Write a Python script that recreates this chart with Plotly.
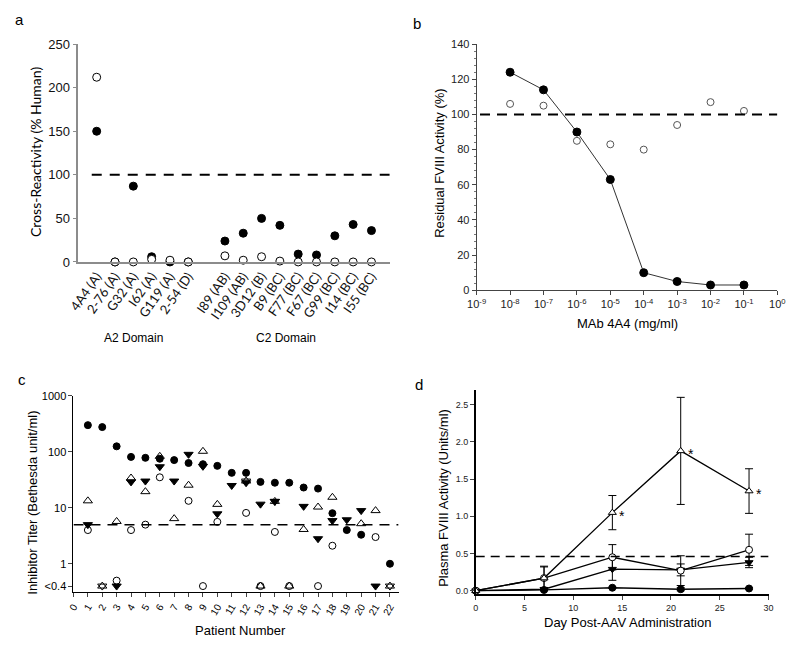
import plotly.graph_objects as go

# ---------------- Panel a data ----------------
a_labels = ["4A4 (A)", "2-76 (A)", "G32 (A)", "I62 (A)", "G119 (A)", "2-54 (D)",
            "I89 (AB)", "I109 (AB)", "3D12 (B)", "B9 (BC)", "F77 (BC)", "F67 (BC)",
            "G99 (BC)", "I14 (BC)", "I55 (BC)"]
a_pos = [0, 1, 2, 3, 4, 5, 7, 8, 9, 10, 11, 12, 13, 14, 15]
a_filled = [150, 0, 87, 6, 0, 0, 24, 33, 50, 42, 9, 8, 30, 43, 36]
a_open = [212, 0, 0, 3, 2, 0, 7, 2, 6, 1, 0, 0, 0, 0, 0]

# ---------------- Panel b data ----------------
b_conc = [1e-8, 1e-7, 1e-6, 1e-5, 1e-4, 1e-3, 1e-2, 1e-1]
b_filled = [124, 114, 90, 63, 10, 5, 3, 3]
b_open = [106, 105, 85, 83, 80, 94, 107, 102]
b_tickvals = [1e-9, 1e-8, 1e-7, 1e-6, 1e-5, 1e-4, 1e-3, 1e-2, 1e-1, 1]
b_ticktext = ["10<sup>-9</sup>", "10<sup>-8</sup>", "10<sup>-7</sup>", "10<sup>-6</sup>",
              "10<sup>-5</sup>", "10<sup>-4</sup>", "10<sup>-3</sup>", "10<sup>-2</sup>",
              "10<sup>-1</sup>", "10<sup>0</sup>"]

# ---------------- Panel c data (0.4 means "<0.4") ----------------
c_patients = list(range(1, 23))
c_filled_circle = [299, 276, 125, 81, 78, 75, 71, 63, 60, 56, 42, 42, 29, 28, 28, 23, 22, 8, 4, 3.3, None, 1.0]
c_filled_down = [5.0, None, 0.4, 29, 30, 54, 30, 90, 55, 7.8, 25, 28, 11.6, 13, None, 10.6, 2.8, 5.9, 6.1, 8.9, 0.4, None]
c_open_up = [13.3, 0.4, 5.7, 34, 19.4, 83, 6.4, 25.3, 102, 11.5, None, 30, 0.4, 13, 0.4, 4.1, 10.3, 15.4, None, 5.2, 8.9, 0.4]
c_open_down = [None, 0.4, None, None, None, None, None, None, None, None, None, 30, None, 13, None, None, None, None, None, None, None, 0.4]
c_open_circle = [4.0, None, 0.5, 4.0, 5.0, 35, None, 13.3, 0.4, 5.6, None, 8.1, 0.4, 3.7, 0.4, None, 0.4, 2.1, None, None, 3.0, None]
c_tickvals = [0.4, 1, 10, 100, 1000]
c_ticktext = ["<0.4", "1", "10", "100", "1000"]

# ---------------- Panel d data ----------------
d_days = [0, 7, 14, 21, 28]
d_open_up = [0, 0.17, 1.05, 1.88, 1.34]
d_open_up_err = [0, 0.15, 0.23, 0.72, 0.30]
d_open_circle = [0, 0.17, 0.45, 0.27, 0.55]
d_open_circle_err = [0, 0.16, 0.17, 0.20, 0.21]
d_filled_down = [0, 0.02, 0.29, 0.28, 0.38]
d_filled_down_err = [0, 0.02, 0.15, 0.08, 0.07]
d_filled_circle = [0, 0.01, 0.04, 0.02, 0.03]
d_filled_circle_err = [0, 0.01, 0.01, 0.02, 0.01]

W, H = 800, 647
def px(x):
    return x / W
def py(y):
    return 1 - y / H

ARIAL = "Liberation Sans, Arial, sans-serif"
fig = go.Figure()

filled = dict(color="black", line=dict(color="black", width=1))
hollow = dict(color="white", line=dict(color="black", width=1))
clear = dict(color="rgba(0,0,0,0)", line=dict(color="black", width=1))

# ---- Panel a ----
fig.add_trace(go.Scatter(x=a_pos, y=a_filled, mode="markers", xaxis="x", yaxis="y",
                         marker=dict(symbol="circle", size=8, **filled), cliponaxis=False))
fig.add_trace(go.Scatter(x=a_pos, y=a_open, mode="markers", xaxis="x", yaxis="y",
                         marker=dict(symbol="circle", size=8, **hollow), cliponaxis=False))

# ---- Panel b ----
fig.add_trace(go.Scatter(x=b_conc, y=b_filled, mode="lines+markers", xaxis="x2", yaxis="y2",
                         line=dict(color="#333", width=1),
                         marker=dict(symbol="circle", size=8, **filled), cliponaxis=False))
fig.add_trace(go.Scatter(x=b_conc, y=b_open, mode="markers", xaxis="x2", yaxis="y2",
                         marker=dict(symbol="circle", size=7, color="white",
                                     line=dict(color="#555", width=1)), cliponaxis=False))

# ---- Panel c ----
fig.add_trace(go.Scatter(x=c_patients, y=c_filled_circle, mode="markers", xaxis="x3", yaxis="y3",
                         marker=dict(symbol="circle", size=7, **filled), cliponaxis=False))
fig.add_trace(go.Scatter(x=c_patients, y=c_filled_down, mode="markers", xaxis="x3", yaxis="y3",
                         marker=dict(symbol="triangle-down", size=8, **filled), cliponaxis=False))
fig.add_trace(go.Scatter(x=c_patients, y=c_open_up, mode="markers", xaxis="x3", yaxis="y3",
                         marker=dict(symbol="triangle-up", size=8, **clear), cliponaxis=False))
fig.add_trace(go.Scatter(x=c_patients, y=c_open_down, mode="markers", xaxis="x3", yaxis="y3",
                         marker=dict(symbol="triangle-down", size=8, **clear), cliponaxis=False))
fig.add_trace(go.Scatter(x=c_patients, y=c_open_circle, mode="markers", xaxis="x3", yaxis="y3",
                         marker=dict(symbol="circle", size=7, **clear), cliponaxis=False))

# ---- Panel d ----
def d_trace(y, err, symbol, mk):
    return go.Scatter(x=d_days, y=y, mode="lines+markers", xaxis="x4", yaxis="y4",
                      line=dict(color="black", width=1.3),
                      error_y=dict(type="data", array=err, color="black", thickness=1, width=4),
                      marker=dict(symbol=symbol, size=7, **mk), cliponaxis=False)

fig.add_trace(d_trace(d_filled_circle, d_filled_circle_err, "circle", filled))
fig.add_trace(d_trace(d_filled_down, d_filled_down_err, "triangle-down", filled))
fig.add_trace(d_trace(d_open_circle, d_open_circle_err, "circle", hollow))
fig.add_trace(d_trace(d_open_up, d_open_up_err, "triangle-up", hollow))

# ---- Reference dashed lines ----
fig.add_shape(type="line", xref="x", yref="y", x0=-0.27, x1=16, y0=100, y1=100,
              line=dict(color="black", width=2, dash="10px,8px"))
fig.add_shape(type="line", xref="x2", yref="y2", x0=10**-8.9, x1=1, y0=100, y1=100,
              line=dict(color="black", width=2, dash="10px,7px"))
fig.add_shape(type="line", xref="x3", yref="y3", x0=0, x1=22.6, y0=5, y1=5,
              line=dict(color="black", width=1.5, dash="10px,7px"))
fig.add_shape(type="line", xref="x4", yref="y4", x0=0, x1=30, y0=0.46, y1=0.46,
              line=dict(color="black", width=1.5, dash="9px,6px"))

common = dict(showgrid=False, zeroline=False, showline=True, ticks="outside", mirror=False)

fig.update_layout(
    width=W, height=H, margin=dict(l=0, r=0, t=0, b=0),
    paper_bgcolor="white", plot_bgcolor="white", showlegend=False,
    font=dict(family=ARIAL, color="black"),
    # panel a
    xaxis=dict(domain=[px(69), px(388)], anchor="y", range=[-1, 16], tickvals=a_pos,
               ticktext=a_labels, tickangle=-55, ticks="", showgrid=False, zeroline=False,
               showline=True, linecolor="#8c8c8c", linewidth=1.5,
               tickfont=dict(family="Lato, sans-serif", size=13, color="#111")),
    yaxis=dict(domain=[py(261), py(38)], anchor="x", range=[0, 250], tickvals=[0, 50, 100, 150, 200, 250],
               linecolor="#8c8c8c", linewidth=1.5, tickcolor="#8c8c8c", ticklen=4,
               tickfont=dict(size=13, color="#111"), **common),
    # panel b
    xaxis2=dict(domain=[px(477), px(785)], anchor="y2", type="log", range=[-9, 0],
                tickvals=b_tickvals, ticktext=b_ticktext, linecolor="#444", tickcolor="#444",
                ticklen=4, tickfont=dict(size=11, color="#222"), **common),
    yaxis2=dict(domain=[py(290), py(38)], anchor="x2", range=[0, 140], dtick=20,
                linecolor="#444", tickcolor="#444", ticklen=4, tickfont=dict(size=11, color="#222"),
                minor=dict(dtick=4, ticks="outside", ticklen=2, tickcolor="#777"), **common),
    # panel c
    xaxis3=dict(domain=[px(64), px(397)], anchor="y3", range=[0, 22.6], dtick=1, tickangle=-60,
                linecolor="black", ticklen=4, tickfont=dict(size=10), **common),
    yaxis3=dict(domain=[py(599), py(398)], anchor="x3", type="log", range=[-0.506, 3.0],
                tickvals=c_tickvals, ticktext=c_ticktext, linecolor="black", ticklen=4,
                tickfont=dict(size=11), **common),
    # panel d
    xaxis4=dict(domain=[px(476), px(776)], anchor="y4", range=[0, 30], dtick=5,
                linecolor="black", linewidth=1.5, ticklen=4, tickfont=dict(size=9, color="#222"), **common),
    yaxis4=dict(domain=[py(601), py(392)], anchor="x4", range=[-0.045, 2.7],
                tickvals=[0, 0.5, 1.0, 1.5, 2.0, 2.5], ticktext=["0.0", "0.5", "1.0", "1.5", "2.0", "2.5"],
                linecolor="black", linewidth=1.5, ticklen=4, tickfont=dict(size=9, color="#222"), **common),
)

def ann(text, x, y, size=13, angle=0, family=ARIAL, **kw):
    fig.add_annotation(text=text, xref="paper", yref="paper", x=px(x), y=py(y),
                       showarrow=False, textangle=angle, font=dict(size=size, family=family, color="black"),
                       xanchor="center", yanchor="middle", **kw)

# Panel letters
ann("a", 9, 13, size=15)
ann("b", 416, 17, size=15)
ann("c", 11, 381, size=15)
ann("d", 418, 386, size=15)

# Axis titles
ann("Cross-Reactivity (% Human)", 25, 148, size=14, angle=-90, family="Lato, sans-serif")
ann("A2 Domain", 125, 339, size=12)
ann("C2 Domain", 282, 339, size=12)
ann("Residual FVIII Activity (%)", 439, 160, size=13, angle=-90)
ann("MAb 4A4 (mg/ml)", 631, 324, size=13)
ann("Inhibitor Titer (Bethesda unit/ml)", 22, 507, size=13, angle=-90)
ann("Patient Number", 235, 638, size=13)
ann("Plasma FVIII Activity (Units/ml)", 443, 502, size=13, angle=-90)
ann("Day Post-AAV Administration", 631, 630, size=13)

# Asterisks in panel d
for xd, yd in [(14, 1.05), (21, 1.88), (28, 1.34)]:
    fig.add_annotation(text="*", xref="x4", yref="y4", x=xd, y=yd, xshift=10, yshift=-3,
                       showarrow=False, font=dict(size=14, color="black"))

fig.write_html("out.html", config={"displayModeBar": False},
               post_script="document.body.style.margin='0';document.body.style.padding='0';"
                           "document.body.style.overflow='hidden';")
